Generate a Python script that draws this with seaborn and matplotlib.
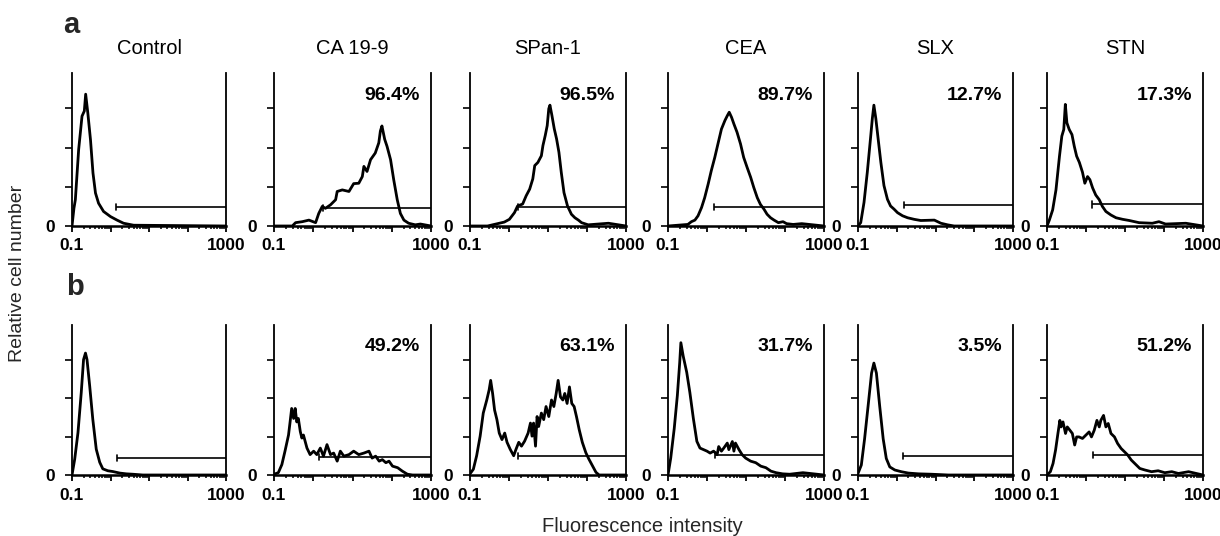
import numpy as np
import matplotlib
matplotlib.use("Agg")
import matplotlib.pyplot as plt
import seaborn as sns

# ---------------- data ----------------
markers = ["Control", "CA 19-9", "SPan-1", "CEA", "SLX", "STN"]
pct_a = [None, "96.4%", "96.5%", "89.7%", "12.7%", "17.3%"]
pct_b = [None, "49.2%", "63.1%", "31.7%", "3.5%", "51.2%"]

# gate start (intensity) and gate height (relative cell number units)
gate_start_a = [1.38, 1.8, 1.7, 1.5, 1.5, 1.4]
gate_height_a = [0.49, 0.46, 0.49, 0.49, 0.54, 0.55]
gate_start_b = [1.47, 1.4, 1.7, 1.6, 1.47, 1.5]
gate_height_b = [0.44, 0.47, 0.49, 0.52, 0.50, 0.51]

# histograms: log10(fluorescence intensity) and relative cell number
a_control_logx = [-1, -.95, -.913, -.827, -.74, -.68, -.645, -.59, -.52, -.455, -.39, -.31, -.18, 0, .17, .34, .6, 3]
a_control_n = [0, .45, .67, 1.95, 2.80, 2.93, 3.36, 2.89, 2.2, 1.35, .84, .58, .37, .24, .15, .07, .02, 0]

a_ca199_logx = [-1, -.534, -.45, -.28, -.11, .06, .14, .23, .31, .44, .57, .61, .74, .91, 1.03, 1.16, 1.25,
                1.29, 1.37, 1.46, 1.58, 1.67, 1.71, 1.75, 1.82, 1.88, 1.97, 2.05, 2.14, 2.22, 2.31, 2.43, 2.6, 2.73, 3]
a_ca199_n = [0, 0, .085, .11, .15, .085, .32, .50, .45, .54, .67, .88, .92, .88, 1.08, 1.09, 1.26,
             1.52, 1.39, 1.69, 1.86, 2.12, 2.42, 2.55, 2.21, 2.03, 1.69, 1.18, .67, .32, .15, .07, .03, .05, 0]

a_span1_logx = [-1, -.55, -.12, .01, .14, .22, .35, .44, .53, .61, .66, .74, .83, .87, .93, .98, 1.02, 1.05,
                1.10, 1.16, 1.22, 1.28, 1.34, 1.41, 1.50, 1.60, 1.69, 1.78, 1.86, 2.03, 2.55, 3]
a_span1_n = [0, 0, .10, .17, .34, .51, .56, .77, .94, 1.20, 1.54, 1.62, 1.79, 2.05, 2.31, 2.56, 2.99, 3.08,
             2.82, 2.48, 2.22, 1.88, 1.37, .85, .51, .30, .21, .15, .085, .03, .07, 0]

a_cea_logx = [-1, -.49, -.40, -.31, -.23, -.14, -.06, .03, .11, .20, .28, .37, .46, .52, .57, .63, .69, .77,
              .86, .94, 1.03, 1.12, 1.20, 1.29, 1.37, 1.46, 1.54, 1.63, 1.72, 1.83, 1.95, 2.04, 2.21, 2.43, 3]
a_cea_n = [0, .04, .11, .15, .26, .47, .72, 1.07, 1.41, 1.75, 2.09, 2.47, 2.69, 2.81, 2.90, 2.77, 2.60, 2.39,
           2.09, 1.75, 1.49, 1.24, .98, .72, .55, .43, .30, .21, .15, .085, .11, .06, .04, .06, 0]

a_slx_logx = [-1, -.93, -.845, -.76, -.67, -.63, -.59, -.54, -.48, -.41, -.33, -.24, -.16, -.07, .02, .15,
              .28, .45, .62, .97, 1.14, 1.31, 1.48, 3]
a_slx_n = [0, .085, .60, 1.37, 2.31, 2.74, 3.08, 2.74, 2.22, 1.62, 1.03, .68, .51, .43, .34, .26,
           .21, .17, .14, .15, .07, .03, 0, 0]

a_stn_logx = [-1, -.94, -.855, -.77, -.68, -.62, -.57, -.53, -.49, -.43, -.36, -.30, -.24, -.17, -.09, -.03,
              .04, .10, .17, .25, .34, .42, .51, .64, .77, .94, 1.11, 1.36, 1.70, 1.87, 2.04, 2.56, 3]
a_stn_n = [0, .15, .41, .92, 1.78, 2.29, 2.46, 3.10, 2.63, 2.46, 2.33, 2.03, 1.78, 1.62, 1.37, 1.09,
           1.26, 1.18, .97, .79, .67, .50, .37, .28, .21, .17, .14, .085, .07, .11, .05, .07, 0]

b_control_logx = [-1, -.93, -.845, -.76, -.70, -.65, -.61, -.54, -.46, -.37, -.28, -.20, -.07, .06, .24, .41, .58, .84, 3]
b_control_n = [0, .41, 1.10, 2.14, 3.0, 3.17, 3.0, 2.31, 1.45, .67, .33, .16, .11, .09, .05, .03, .02, 0, 0]

b_ca199_logx = [-1, -.89, -.80, -.72, -.63, -.59, -.55, -.50, -.46, -.42, -.38, -.33, -.29, -.25, -.16, -.08,
                .01, .09, .18, .26, .35, .44, .52, .61, .69, .78, .91, 1.03, 1.16, 1.29, 1.42, 1.50, 1.59,
                1.68, 1.76, 1.85, 1.93, 2.02, 2.15, 2.27, 2.40, 2.53, 3]
b_ca199_n = [.02, .06, .27, .62, 1.04, 1.38, 1.73, 1.47, 1.73, 1.38, 1.47, 1.13, .96, 1.04, .70, .53,
             .62, .53, .70, .49, .79, .53, .57, .36, .62, .49, .53, .62, .53, .57, .62, .44, .49,
             .36, .40, .32, .36, .23, .19, .10, .02, 0, 0]

b_span1_logx = [-1, -.914, -.83, -.74, -.66, -.57, -.51, -.47, -.42, -.37, -.31, -.25, -.18, -.11, -.05, .03,
                .12, .18, .25, .32, .40, .49, .55, .59, .63, .68, .72, .76, .83, .89, .95, 1.02, 1.09, 1.15,
                1.21, 1.26, 1.32, 1.38, 1.43, 1.49, 1.55, 1.61, 1.67, 1.73, 1.80, 1.88, 1.97, 2.05, 2.14,
                2.23, 2.31, 3]
b_span1_n = [.03, .15, .50, 1.01, 1.61, 1.95, 2.21, 2.46, 2.12, 1.69, 1.44, 1.09, .92, 1.09, .85, .67,
             .50, .67, .85, .75, .88, 1.09, 1.35, 1.01, 1.35, .75, 1.52, 1.26, 1.61, 1.44, 1.78, 1.52, 1.95, 1.78,
             2.12, 2.46, 2.03, 1.95, 2.12, 1.86, 2.29, 1.86, 1.78, 1.52, 1.18, .85, .58, .41, .24,
             .07, 0, 0]

b_cea_logx = [-1, -.93, -.84, -.76, -.70, -.67, -.61, -.52, -.44, -.35, -.26, -.18, -.09, 0, .08, .17, .26,
              .30, .37, .43, .52, .56, .65, .69, .73, .82, .90, .99, 1.12, 1.25, 1.38, 1.51, 1.64, 1.77,
              1.94, 2.12, 2.46, 3]
b_cea_n = [0, .44, 1.21, 2.07, 2.92, 3.44, 3.09, 2.67, 2.15, 1.47, .875, .70, .66, .62, .57, .62, .53,
           .74, .62, .70, .83, .66, .87, .62, .83, .66, .53, .44, .36, .32, .23, .19, .10, .06,
           .03, .02, .06, 0]

b_slx_logx = [-1, -.914, -.83, -.74, -.65, -.59, -.525, -.44, -.35, -.27, -.18, -.05, .12, .30, .56, .90, 1.33, 3]
b_slx_n = [.04, .26, .94, 1.79, 2.65, 2.91, 2.65, 1.79, .94, .43, .21, .13, .085, .05, .03, .02, 0, 0]

b_stn_logx = [-1, -.914, -.845, -.78, -.72, -.67, -.64, -.59, -.525, -.48, -.41, -.35, -.29, -.24, -.18, -.09,
              -.01, .08, .14, .21, .28, .34, .38, .45, .51, .57, .64, .73, .81, .90, .99, 1.07, 1.16, 1.25,
              1.38, 1.51, 1.68, 1.85, 2.02, 2.20, 2.37, 2.63, 3]
b_stn_n = [0, .086, .30, .65, 1.08, 1.42, 1.25, 1.38, 1.08, 1.25, 1.16, 1.08, .78, .99, .99, .95,
           1.03, 1.12, .99, 1.16, 1.42, 1.25, 1.42, 1.55, 1.25, 1.34, 1.08, .99, .82, .69, .60, .52, .39, .30,
           .17, .13, .086, .11, .06, .086, .04, .086, 0]

row_a = [(a_control_logx, a_control_n), (a_ca199_logx, a_ca199_n), (a_span1_logx, a_span1_n),
         (a_cea_logx, a_cea_n), (a_slx_logx, a_slx_n), (a_stn_logx, a_stn_n)]
row_b = [(b_control_logx, b_control_n), (b_ca199_logx, b_ca199_n), (b_span1_logx, b_span1_n),
         (b_cea_logx, b_cea_n), (b_slx_logx, b_slx_n), (b_stn_logx, b_stn_n)]

# ---------------- style ----------------
sns.set_style("white")
plt.rcParams['font.family'] = ['Liberation Sans', 'DejaVu Sans']

W, H = 1220, 536
fig = plt.figure(figsize=(W / 100, H / 100), dpi=100)
fig.patch.set_facecolor("white")

col_left = [72, 274, 470, 668, 858, 1047]
col_right = [226, 431, 626, 824, 1013, 1203]
row_top = [73, 325]
row_bot = [226, 475]

rows = [(row_a, pct_a, gate_start_a, gate_height_a), (row_b, pct_b, gate_start_b, gate_height_b)]

for r, (hists, pcts, gstarts, gheights) in enumerate(rows):
    for c in range(6):
        L, R = col_left[c], col_right[c]
        T, B = row_top[r], row_bot[r]
        ax = fig.add_axes([L / W, 1 - B / H, (R - L) / W, (B - T) / H])
        ax.set_xscale('log')
        logx, n = hists[c]
        x = 10 ** np.asarray(logx, dtype=float)
        sns.lineplot(x=x, y=n, ax=ax, color='black', linewidth=2.0, sort=False,
                     estimator=None, legend=False)
        gs, gh = gstarts[c], gheights[c]
        ax.plot([gs, 1000], [gh, gh], color='black', lw=1.2, solid_capstyle='butt')
        ax.plot([gs, gs], [gh - 0.08, gh + 0.08], color='black', lw=1.2)
        ax.set_xlim(0.1, 1000)
        ax.set_ylim(0, 3.9)
        ax.set_xlabel('')
        ax.set_ylabel('')
        ax.spines['top'].set_visible(False)
        for s in ['left', 'right', 'bottom']:
            ax.spines[s].set_visible(True)
            ax.spines[s].set_color('black')
            ax.spines[s].set_linewidth(1.3)
        ax.spines['bottom'].set_linewidth(1.8)
        ax.set_yticks([0, 1, 2, 3])
        ax.set_yticklabels(['0', '', '', ''])
        ax.set_xticks([0.1, 1, 10, 100, 1000])
        ax.set_xticklabels(['0.1', '', '', '', '1000'])
        ax.tick_params(axis='y', which='major', direction='out', length=5, width=1.2,
                       labelsize=12.5, pad=7, left=True, right=False, colors='black')
        ax.tick_params(axis='x', which='major', direction='out', length=4, width=1.3,
                       labelsize=12.5, pad=5, bottom=True, colors='black')
        ax.tick_params(axis='x', which='minor', direction='out', length=2.5, width=1.1,
                       bottom=True, colors='black')
        for lbl in ax.get_xticklabels() + ax.get_yticklabels():
            lbl.set_fontweight('bold')
        ax.grid(False)
        ax.set_facecolor('white')
        if r == 0:
            ax.set_title(markers[c], fontsize=14.5, pad=14, color='black')
        if pcts[c]:
            ax.text(0.93, 0.855, pcts[c], transform=ax.transAxes, ha='right', va='center',
                    fontsize=14, fontweight='bold', color='black')

fig.text(71 / W, 1 - 25 / H, 'a', fontsize=21, fontweight='heavy', ha='center', va='center')
fig.text(75 / W, 1 - 287 / H, 'b', fontsize=21, fontweight='heavy', ha='center', va='center')
fig.text(18 / W, 1 - 273 / H, 'Relative cell number', rotation=90, ha='center', va='center',
         fontsize=14)
fig.text(642 / W, 1 - 527 / H, 'Fluorescence intensity', ha='center', va='center', fontsize=14.5)

fig.savefig('out.png', dpi=100, facecolor='white')
